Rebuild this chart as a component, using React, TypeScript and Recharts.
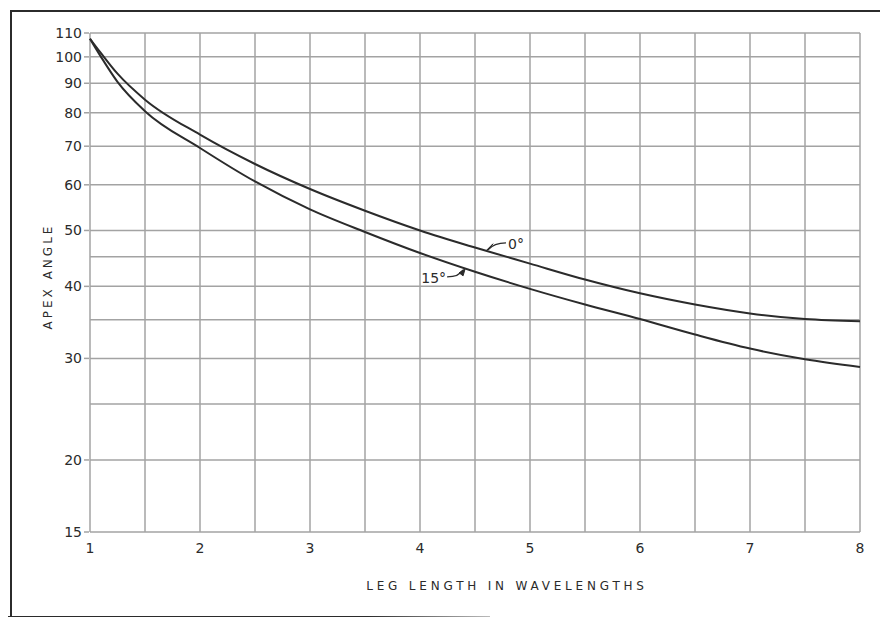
import { LineChart, Line, XAxis, YAxis, CartesianGrid, ReferenceDot } from "recharts";

// leg length in wavelengths
const legLength = [1, 1.1, 1.25, 1.5, 2, 2.5, 3, 3.5, 4, 4.5, 5, 5.5, 6, 6.5, 7, 7.5, 8];
// apex angle (deg) for 0 deg tilt
const apex0 = [107.5, 101.5, 93.5, 84.3, 73.3, 65.2, 59.0, 54.1, 50.0, 46.7, 43.8, 41.1, 38.9, 37.2, 35.9, 35.1, 34.8];
// apex angle (deg) for 15 deg tilt
const apex15 = [107.5, 100.0, 90.5, 80.5, 69.5, 60.8, 54.4, 49.7, 45.7, 42.4, 39.6, 37.2, 35.1, 33.0, 31.2, 29.9, 29.0];

const xTicks = [1, 1.5, 2, 2.5, 3, 3.5, 4, 4.5, 5, 5.5, 6, 6.5, 7, 7.5, 8];
const yTicks = [15, 20, 25, 30, 35, 40, 45, 50, 60, 70, 80, 90, 100, 110];
const yLabels = [15, 20, 30, 40, 50, 60, 70, 80, 90, 100, 110];

const data = legLength.map((x, i) => ({ x, a0: apex0[i], a15: apex15[i] }));

const INK = "#2b2b2b";
const GRID = "#a3a3a3";
const FONT = "'DejaVu Sans', sans-serif";

function YTick(props: any) {
  const { x, y, payload } = props;
  if (!yLabels.includes(payload.value)) return null;
  return (
    <g>
      <line x1={x + 2} y1={y} x2={x + 7} y2={y} stroke={GRID} strokeWidth={1.5} />
      <text x={x} y={y} dy={5} textAnchor="end" fontSize={14} fontFamily={FONT} fill={INK}>
        {payload.value}
      </text>
    </g>
  );
}

function XTick(props: any) {
  const { x, y, payload } = props;
  if (!Number.isInteger(payload.value)) return null;
  return (
    <text x={x} y={y} dy={13} textAnchor="middle" fontSize={14} fontFamily={FONT} fill={INK}>
      {payload.value}
    </text>
  );
}

function Arrow0(props: any) {
  const { cx, cy } = props;
  return (
    <g>
      <path d={`M${cx + 20},${cy - 8} Q${cx + 8},${cy - 8} ${cx + 2},${cy - 1}`} fill="none" stroke={INK} strokeWidth={1.3} />
      <path d={`M${cx},${cy} L${cx + 7},${cy - 7} L${cx + 3},${cy - 2} Z`} fill={INK} stroke={INK} strokeWidth={1} />
      <text x={cx + 22} y={cy - 2} fontSize={14} fontFamily={FONT} fill={INK}>0°</text>
    </g>
  );
}

function Arrow15(props: any) {
  const { cx, cy } = props;
  return (
    <g>
      <path d={`M${cx - 18},${cy + 8} Q${cx - 6},${cy + 8} ${cx - 2},${cy + 1}`} fill="none" stroke={INK} strokeWidth={1.3} />
      <path d={`M${cx},${cy} L${cx - 2},${cy + 7} L${cx - 6},${cy + 4} Z`} fill={INK} stroke={INK} strokeWidth={1} />
      <text x={cx - 19} y={cy + 14} textAnchor="end" fontSize={14} fontFamily={FONT} fill={INK}>15°</text>
    </g>
  );
}

export default function App() {
  return (
    <div style={{ position: "relative", width: 872, height: 609 }}>
      <div style={{ position: "absolute", left: 2, top: 2, right: -8, height: 607, borderTop: `2px solid ${INK}`, borderLeft: `2px solid ${INK}` }} />
      <div style={{ position: "absolute", left: -8, top: 608, width: 490, height: 3, background: `linear-gradient(to right, ${INK} 75%, #bbb)` }} />
      <div style={{ position: "absolute", left: 0, top: 0 }}>
        <LineChart width={872} height={609} data={data} margin={{ top: 25, right: 20, left: 0, bottom: 0 }}>
          <CartesianGrid stroke={GRID} strokeWidth={1.5} />
          <XAxis
            dataKey="x"
            type="number"
            domain={[1, 8]}
            ticks={xTicks}
            axisLine={false}
            tickLine={false}
            height={85}
            tick={<XTick />}
            label={({ viewBox }: any) => (
              <text
                x={viewBox.x + viewBox.width / 2 + 32}
                y={viewBox.y + 58}
                textAnchor="middle"
                fontSize={12}
                letterSpacing={3.8}
                fontFamily={FONT}
                fill={INK}
              >
                LEG LENGTH IN WAVELENGTHS
              </text>
            )}
          />
          <YAxis
            type="number"
            scale="log"
            domain={[15, 110]}
            ticks={yTicks}
            allowDataOverflow
            axisLine={false}
            tickLine={false}
            width={82}
            tick={<YTick />}
            label={({ viewBox }: any) => {
              const cx = viewBox.x + 40;
              const cy = viewBox.y + viewBox.height / 2 - 6;
              return (
                <text
                  x={cx}
                  y={cy}
                  transform={`rotate(-90 ${cx} ${cy})`}
                  textAnchor="middle"
                  dominantBaseline="central"
                  fontSize={12}
                  letterSpacing={3}
                  fontFamily={FONT}
                  fill={INK}
                >
                  APEX ANGLE
                </text>
              );
            }}
          />
          <Line type="monotone" dataKey="a0" stroke={INK} strokeWidth={2} dot={false} isAnimationActive={false} />
          <Line type="monotone" dataKey="a15" stroke={INK} strokeWidth={2} dot={false} isAnimationActive={false} />
          <ReferenceDot x={4.6} y={46.1} r={0} shape={<Arrow0 />} />
          <ReferenceDot x={4.41} y={42.9} r={0} shape={<Arrow15 />} />
        </LineChart>
      </div>
    </div>
  );
}
